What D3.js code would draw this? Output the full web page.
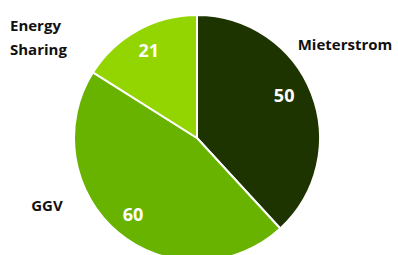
<!DOCTYPE html>
<html><head><meta charset="utf-8">
<script src="https://cdn.jsdelivr.net/npm/d3@7"></script>
<style>
html,body{margin:0;padding:0;background:#fff;}
svg{display:block;font-family:"Open Sans","Liberation Sans",Arial,sans-serif;}
</style></head>
<body><svg id="c" width="398" height="255"></svg>
<script>
const categories = ["Mieterstrom", "GGV", "Energy Sharing"];
const values = [50, 60, 21];
const colors = ["#1d3300", "#67b300", "#93d500"];
const catLabelLines = [["Mieterstrom"], ["GGV"], ["Energy", "Sharing"]];

const W = 398, H = 255;
const cx = 197, cy = 138, R = 123;
// [x, y, anchor]
const catPos = [[345, 50, "middle"], [47, 211, "middle"], [10, 31, "start"]];

const svg = d3.select("#c");
const g = svg.append("g").attr("transform", `translate(${cx},${cy})`);
const data = categories.map((c, i) => ({c, v: values[i], i}));
const pie = d3.pie().value(d => d.v).sort(null);
const arcs = pie(data);
const arc = d3.arc().innerRadius(0).outerRadius(R);
const labelArc = d3.arc().innerRadius(100).outerRadius(100);

g.selectAll("path").data(arcs).join("path")
  .attr("d", arc)
  .attr("fill", d => colors[d.data.i])
  .attr("stroke", "#fff").attr("stroke-width", 2).attr("stroke-linejoin", "round");

g.selectAll("text.v").data(arcs).join("text")
  .attr("class", "v")
  .attr("transform", d => {
    const [x, y] = labelArc.centroid(d);
    const adj = d.data.i === 0 ? [-6, -6] : [0, 0];
    return `translate(${x + adj[0]},${y + adj[1]})`;
  })
  .attr("text-anchor", "middle").attr("dy", "0.36em")
  .attr("fill", "#fff").attr("font-weight", "bold").attr("font-size", 18)
  .text(d => d.data.v);

const cl = svg.selectAll("text.c").data(data).join("text")
  .attr("class", "c")
  .attr("x", (d, i) => catPos[i][0]).attr("y", (d, i) => catPos[i][1])
  .attr("text-anchor", (d, i) => catPos[i][2])
  .attr("fill", "#111").attr("font-weight", "bold").attr("font-size", 15);
cl.each(function(d, i) {
  const lines = catLabelLines[i];
  d3.select(this).selectAll("tspan").data(lines).join("tspan")
    .attr("x", catPos[i][0]).attr("dy", (t, k) => k === 0 ? 0 : 24)
    .text(t => t);
});
</script></body></html>
